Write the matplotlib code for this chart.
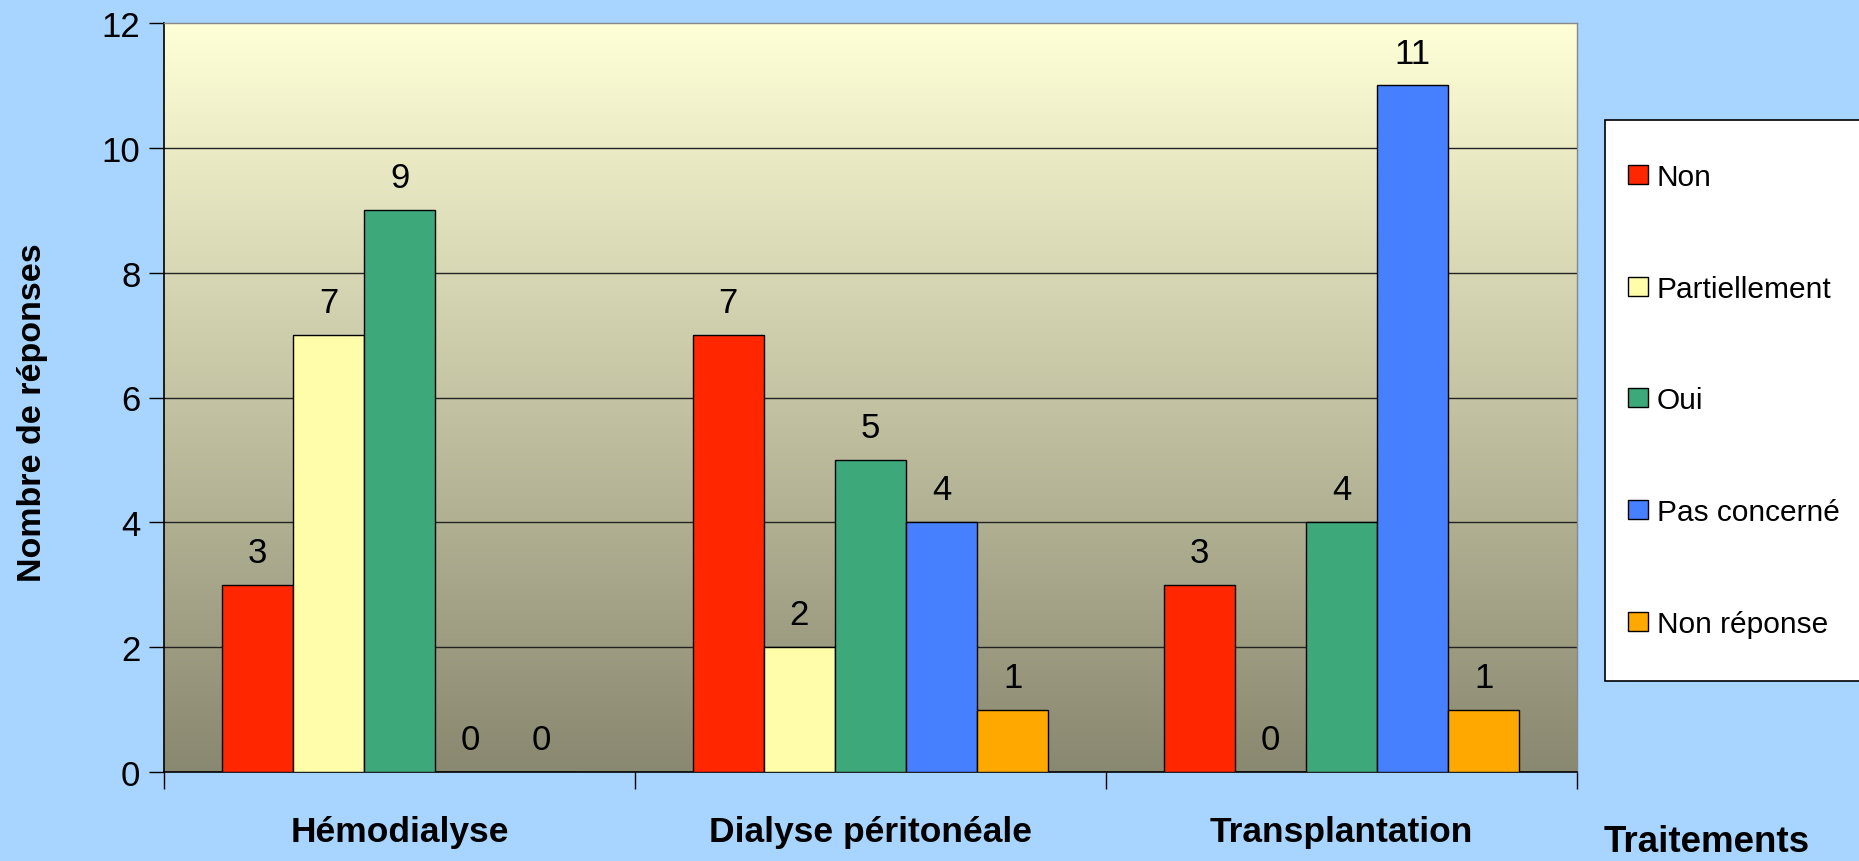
import numpy as np
import matplotlib
matplotlib.use("Agg")
import matplotlib.pyplot as plt
from matplotlib.patches import Rectangle

plt.rcParams['font.family'] = ['Liberation Sans', 'DejaVu Sans']

categories = ["Hémodialyse", "Dialyse péritonéale", "Transplantation"]
series_names = ["Non", "Partiellement", "Oui", "Pas concerné", "Non réponse"]
non = [3, 7, 3]
partiellement = [7, 2, 0]
oui = [9, 5, 4]
pas_concerne = [0, 4, 11]
non_reponse = [0, 1, 1]
series_values = [non, partiellement, oui, pas_concerne, non_reponse]
colors = ["#FF2600", "#FFFCAA", "#3DA87A", "#4680FF", "#FFA800"]
yticks = [0, 2, 4, 6, 8, 10, 12]

W, H = 1859, 862
fig = plt.figure(figsize=(W / 100, H / 100), dpi=100)
fig.patch.set_facecolor("#A8D5FF")

ax = fig.add_axes([164 / W, 1 - 773 / H, (1577 - 164) / W, (773 - 24) / H])

# gradient background
top = np.array([255, 255, 215]) / 255
bot = np.array([137, 136, 112]) / 255
t = np.linspace(0, 1, 256)[:, None]
grad = (top[None, :] * (1 - t) + bot[None, :] * t)[:, None, :]
ax.imshow(grad, extent=(0, 1, 0, 1), transform=ax.transAxes, aspect='auto',
          zorder=0, interpolation='bilinear')

x = np.arange(len(categories))
w = 0.151
for i, (name, vals, c) in enumerate(zip(series_names, series_values, colors)):
    pos = x + (i - 2) * w
    ax.bar(pos, vals, width=w, color=c, edgecolor="black", linewidth=1.0,
           label=name, zorder=3)
    for p, v in zip(pos, vals):
        ax.annotate(str(v), (p, v), xytext=(0, 16.5), textcoords="offset points",
                    ha="center", va="baseline", fontsize=25, zorder=4)

ax.set_xlim(-0.5, 2.5)
ax.set_ylim(0, 12)
ax.set_yticks(yticks)
ax.set_yticklabels([str(v) for v in yticks], fontsize=25)
for yv in yticks[1:-1]:
    ax.axhline(yv, color="#222222", linewidth=1.0, zorder=1)

ax.set_xticks(x)
ax.set_xticklabels(categories, fontsize=25.5, fontweight="bold")
ax.set_xticks([-0.5, 0.5, 1.5, 2.5], minor=True)
ax.tick_params(axis='x', which='major', length=0, pad=31)
ax.tick_params(axis='x', which='minor', length=12, width=1, color="black", direction='out')
ax.tick_params(axis='y', length=11, width=1, direction='out', pad=6)

for s in ["top", "right"]:
    ax.spines[s].set_color("#888888")
    ax.spines[s].set_linewidth(1.0)
ax.spines["left"].set_color("black")
ax.spines["bottom"].set_color("black")
ax.spines["left"].set_linewidth(1.2)
ax.spines["bottom"].set_linewidth(1.2)

fig.text(33 / W, 1 - 413 / H, "Nombre de réponses", rotation=90, ha="center",
         va="center", fontsize=24.5, fontweight="bold")
fig.text(1707 / W, 2 / H, "Traitements", ha="center", va="bottom",
         fontsize=26.5, fontweight="bold")

# legend box
fig.patches.append(Rectangle((1605 / W, 1 - 682 / H), (W - 1605 + 5) / W, (682 - 121) / H,
                             transform=fig.transFigure, facecolor="white",
                             edgecolor="black", linewidth=1.2, zorder=1))
handles, labels = ax.get_legend_handles_labels()
leg = fig.legend(handles, labels, loc="center left",
                 bbox_to_anchor=(1628 / W, 1 - 401.5 / H), frameon=False,
                 fontsize=21.5, labelspacing=2.8, handlelength=0.67,
                 handleheight=0.6, handletextpad=0.3, borderpad=0, borderaxespad=0)
leg.set_zorder(2)

fig.savefig("out.png", dpi=100, facecolor=fig.get_facecolor())
